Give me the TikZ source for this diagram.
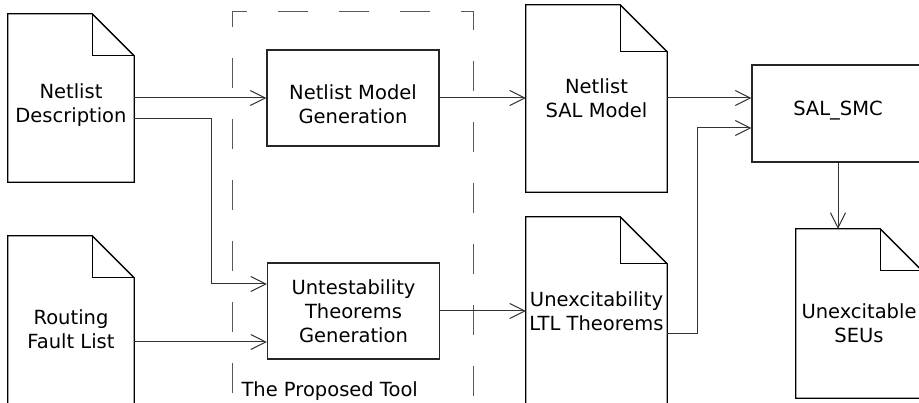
\documentclass[tikz,border=0pt]{standalone}
\usepackage{fontspec}
\setmainfont{DejaVu Sans}
\usetikzlibrary{arrows.meta}

\tikzset{
	docline/.style={line width=1.3pt, black},
	docnode/.style n args={4}{minimum width=#1, minimum height=#2, inner sep=0pt,
		label={[align=center, yshift=#3]center:#4}},
	stepbox/.style={draw=black!85, line width=1.1pt, minimum width=172pt, minimum height=96pt, inner sep=0pt},
	boxtext/.style 2 args={label={[align=center, yshift=#1]center:#2}},
	flow/.style={line width=1pt, black!80, -{Straight Barb[length=15pt,width=15pt]}},
	toolframe/.style={line width=1pt, black!65, dash pattern=on 30pt off 31pt, dash phase=15pt}
}
% outline of a document node, #2 = size of the folded corner
\newcommand{\DocOutline}[2]{%
	\draw[docline] (#1.south west) -- (#1.north west) -- ([xshift=-#2]#1.north east)
		-- ([yshift=-#2]#1.north east) -- (#1.south east) -- cycle;
	\draw[docline] ([xshift=-#2]#1.north east) |- ([yshift=-#2]#1.north east);}

\begin{document}
\begin{tikzpicture}[x=1pt, y=-1pt, font=\fontsize{19.5}{24}\selectfont]
	\useasboundingbox (0,0) rectangle (919,403);
	% the proposed tool
	\draw[toolframe] (232,12) -- (232,430);
	\draw[toolframe] (232,12) -- (473,12) -- (473,430);
	\node[anchor=base west] (tool) at (238,397) {The Proposed Tool};
	% documents
	\node[docnode={126pt}{168pt}{-7pt}{Netlist\\Description}] (desc) at (71,98) {};
	\DocOutline{desc}{42pt}
	\node[docnode={126pt}{169pt}{-9pt}{Routing\\Fault List}] (route) at (71,320.5) {};
	\DocOutline{route}{42pt}
	\node[docnode={141pt}{187pt}{0pt}{Netlist\\SAL Model}] (salmodel) at (596.5,98.5) {};
	\DocOutline{salmodel}{47pt}
	\node[docnode={141pt}{188pt}{0pt}{Unexcitability\\LTL Theorems}] (ltl) at (596.5,311) {};
	\DocOutline{ltl}{47pt}
	\node[docnode={126pt}{169pt}{-10pt}{Unexcitable\\SEUs}] (seus) at (859,313.5) {};
	\DocOutline{seus}{42pt}
	% processing steps
	\node[stepbox, boxtext={-6pt}{Netlist Model\\Generation}] (modelgen) at (353,98) {};
	\node[stepbox, boxtext={0pt}{Untestability\\Theorems\\Generation}] (theogen) at (353.5,311) {};
	\node[stepbox, minimum height=97pt, boxtext={3pt}{SAL\_SMC}] (smc) at (838,113.5) {};
	% connectors
	\draw[flow] (desc.east) -- (modelgen.west);
	\draw[flow] ([yshift=-21pt]desc.east) -- ++(77pt,0) |- ([yshift=27pt]theogen.west);
	\draw[flow] ([yshift=-21.5pt]route.east) -- ([yshift=-31pt]theogen.west);
	\draw[flow] (modelgen.east) -- (salmodel.west |- modelgen.east);
	\draw[flow] (theogen.east) -- (ltl.west |- theogen.east);
	\draw[flow] (salmodel.east |- modelgen.east) -- ([yshift=15.5pt]smc.west);
	\draw[flow] ([yshift=-23pt]ltl.east) -- ++(30pt,0) |- ([yshift=-14.5pt]smc.west);
	\draw[flow] (smc.south) -- (seus.north -| smc.south);
\end{tikzpicture}
\end{document}
